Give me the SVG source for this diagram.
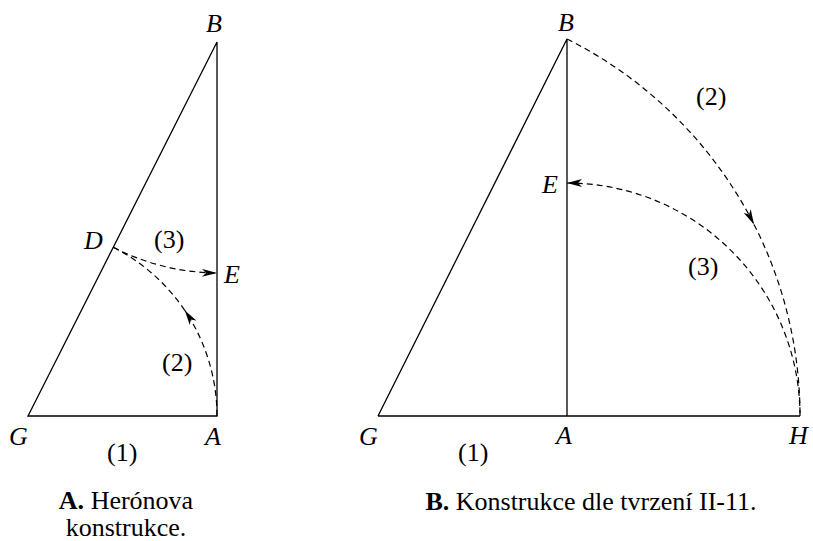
<svg xmlns="http://www.w3.org/2000/svg" width="813" height="541" viewBox="0 0 813 541">
<style>
.ln{fill:none;stroke:#000;stroke-width:1.3}
.ds{fill:none;stroke:#000;stroke-width:1.2;stroke-dasharray:6,4}
.lb{font-family:"Liberation Serif","Times New Roman",serif;font-size:26px;font-style:italic;fill:#000}
.nm{font-family:"Liberation Serif","Times New Roman",serif;font-size:26px;fill:#000}
.cap{font-family:"Liberation Serif","Times New Roman",serif;font-size:26px;fill:#000}
</style>
<defs>
<marker id="ah" viewBox="0 0 15 8" refX="15" refY="4" markerWidth="15" markerHeight="8" markerUnits="userSpaceOnUse" orient="auto">
<path d="M0,0 L15,4 L0,8 L4,4 z" fill="#000"/>
</marker>
</defs>
<rect width="813" height="541" fill="#fff"/>
<g id="figA">
<g id="triA">
<path class="ln" d="M28,416 L217,416 L217,42 Z"/>
</g>
<g id="connA">
<path class="ds" d="M217,416 A189,189 0 0 0 184.7,310.3" marker-end="url(#ah)"/>
<path class="ds" d="M184.7,310.3 A189,189 0 0 0 113.3,247.3"/>
<path class="ds" d="M113.3,247.3 A231,231 0 0 0 217,273" marker-end="url(#ah)"/>
</g>
<g id="labelsA">
<text class="lb" x="206" y="32">B</text>
<text class="lb" x="84" y="249">D</text>
<text class="lb" x="224" y="283">E</text>
<text class="lb" x="9" y="445">G</text>
<text class="lb" x="205" y="445">A</text>
<text class="nm" x="154" y="248">(3)</text>
<text class="nm" x="162" y="371">(2)</text>
<text class="nm" x="107" y="461">(1)</text>
</g>
<g id="captionA">
<text class="cap" x="126" y="509" text-anchor="middle"><tspan font-weight="bold">A.</tspan> Herónova</text>
<text class="cap" x="126" y="536" text-anchor="middle">konstrukce.</text>
</g>
</g>
<g id="figB">
<g id="triB">
<path class="ln" d="M378,416 L800,416 M378,416 L567,39 L567,416"/>
</g>
<g id="connB">
<path class="ds" d="M567,39 A422,422 0 0 1 754,224.4" marker-end="url(#ah)"/>
<path class="ds" d="M754,224.4 A422,422 0 0 1 800,416"/>
<path class="ds" d="M800,416 A233,233 0 0 0 567,183" marker-end="url(#ah)"/>
</g>
<g id="labelsB">
<text class="lb" x="558" y="31">B</text>
<text class="lb" x="542" y="193">E</text>
<text class="lb" x="359" y="445">G</text>
<text class="lb" x="556" y="444">A</text>
<text class="lb" x="789" y="444">H</text>
<text class="nm" x="696" y="105">(2)</text>
<text class="nm" x="688" y="275">(3)</text>
<text class="nm" x="458" y="461">(1)</text>
</g>
<g id="captionB">
<text class="cap" x="591" y="510" text-anchor="middle"><tspan font-weight="bold">B.</tspan> Konstrukce dle tvrzení II-11.</text>
</g>
</g>
</svg>
